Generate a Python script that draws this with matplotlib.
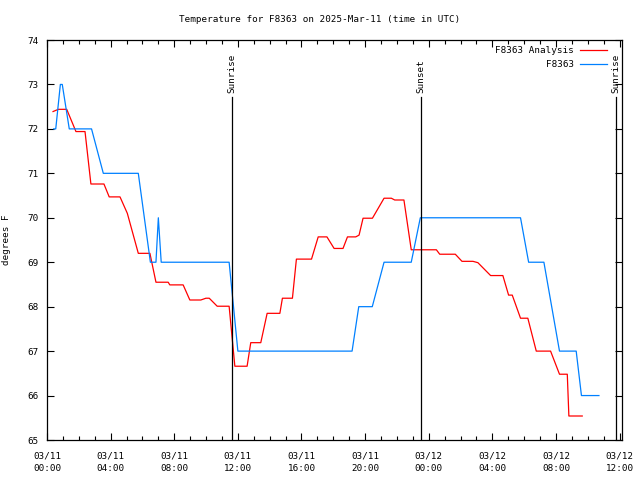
import matplotlib
matplotlib.use("Agg")
import matplotlib.pyplot as plt

# ---- data (x in hours since 2025-03-11 00:00 UTC) ----
obs_hours = [0.42, 0.55, 0.84, 0.96, 1.40, 2.80, 3.54, 5.74, 6.50, 6.85, 7.00, 7.18,
             11.45, 12.00, 19.18, 19.60, 20.45, 21.19, 22.90, 23.47, 29.77, 30.28,
             31.24, 32.22, 33.27, 33.60, 34.70]
obs_temp = [72, 72, 73, 73, 72, 72, 71, 71, 69, 69, 70, 69,
            69, 67, 67, 68, 68, 69, 69, 70, 70, 69,
            69, 67, 67, 66, 66]

ana_hours = [0.38, 0.71, 1.24, 1.82, 2.39, 2.76, 3.58, 3.91, 4.59, 5.05, 5.74, 6.47,
             6.85, 7.62, 7.72, 8.56, 8.98, 9.67, 9.99, 10.20, 10.70, 11.45, 11.81,
             12.58, 12.81, 13.44, 13.84, 14.64, 14.80, 15.43, 15.68, 16.63, 17.05,
             17.60, 18.05, 18.61, 18.89, 19.41, 19.62, 19.87, 20.46, 21.19, 21.65,
             21.86, 22.44, 22.90, 24.48, 24.69, 25.67, 26.09, 26.78, 27.09, 27.89,
             28.66, 29.02, 29.25, 29.77, 30.23, 30.76, 31.66, 32.22, 32.71, 32.81,
             33.65]
ana_temp = [72.39, 72.44, 72.44, 71.94, 71.94, 70.76, 70.76, 70.47, 70.47, 70.10, 69.20, 69.20,
            68.55, 68.55, 68.49, 68.49, 68.15, 68.15, 68.19, 68.19, 68.01, 68.01, 66.66,
            66.66, 67.19, 67.19, 67.85, 67.85, 68.19, 68.19, 69.07, 69.07, 69.57,
            69.57, 69.31, 69.31, 69.57, 69.57, 69.61, 69.99, 69.99, 70.44, 70.44,
            70.40, 70.40, 69.28, 69.28, 69.18, 69.18, 69.02, 69.02, 68.99, 68.70,
            68.70, 68.26, 68.26, 67.74, 67.74, 67.00, 67.00, 66.48, 66.48, 65.54,
            65.54]

sun_hours = [11.63, 23.50, 35.75]
sun_labels = ["Sunrise", "Sunset", "Sunrise"]

xtick_hours = [0, 4, 8, 12, 16, 20, 24, 28, 32, 36]
xtick_labels = ["03/11\n00:00", "03/11\n04:00", "03/11\n08:00", "03/11\n12:00",
                "03/11\n16:00", "03/11\n20:00", "03/12\n00:00", "03/12\n04:00",
                "03/12\n08:00", "03/12\n12:00"]
ytick_vals = [65, 66, 67, 68, 69, 70, 71, 72, 73, 74]

# ---- figure ----
FONT = "DejaVu Sans Mono"
FS = 6.7
plt.rcParams["font.family"] = FONT

fig = plt.figure(figsize=(6.4, 4.8), dpi=100)
ax = fig.add_axes([47/640, 1-440/480, (622-47)/640, 400/480])

ax.plot(ana_hours, ana_temp, color="#ff0000", lw=0.9, label="F8363 Analysis")
ax.plot(obs_hours, obs_temp, color="#0080ff", lw=0.9, label="F8363")

ax.set_xlim(0, 36.15)
ax.set_ylim(65, 74)

for h, lab in zip(sun_hours, sun_labels):
    ax.plot([h, h], [65, 72.72], color="black", lw=0.9)
    ax.text(h, 72.8, lab, rotation=90, ha="center", va="bottom",
            fontsize=FS, family=FONT)

ax.set_xticks(xtick_hours)
ax.set_xticklabels(xtick_labels, fontsize=FS, family=FONT, linespacing=1.6)
ax.set_xticks(list(range(0, 37)), minor=True)
ax.set_yticks(ytick_vals)
ax.set_yticklabels([str(v) for v in ytick_vals], fontsize=FS, family=FONT)
ax.tick_params(axis="both", which="major", direction="in", length=5, width=0.8,
               top=True, right=True)
ax.tick_params(axis="x", which="major", pad=8)
ax.tick_params(axis="y", which="major", pad=6)
ax.tick_params(axis="x", which="minor", direction="in", length=3, width=0.8,
               top=True, bottom=True)
for s in ax.spines.values():
    s.set_linewidth(0.9)

ax.set_ylabel("degrees F", fontsize=FS, family=FONT, labelpad=12)
fig.text(0.5, 1-19/480, "Temperature for F8363 on 2025-Mar-11 (time in UTC)",
         ha="center", va="center", fontsize=FS, family=FONT)

leg = ax.legend(loc="upper right", frameon=False, markerfirst=False,
                fontsize=FS, handlelength=2.9, handletextpad=0.7,
                labelspacing=0.55, borderaxespad=0.45, borderpad=0.2,
                bbox_to_anchor=(0.985, 1.0))
for t in leg.get_texts():
    t.set_ha("right")
leg._legend_box.align = "right"

fig.savefig("out.png", dpi=100)
